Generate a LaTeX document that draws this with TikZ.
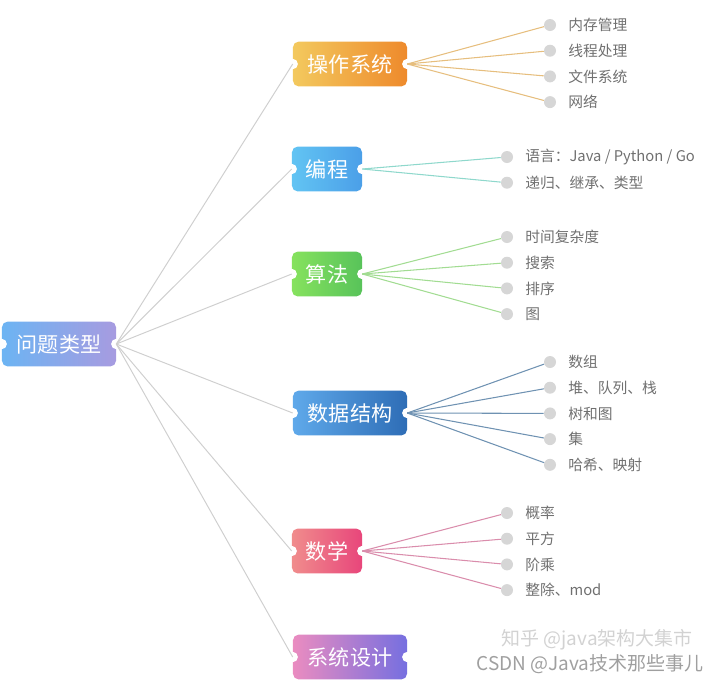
\documentclass[tikz,border=0pt]{standalone}
\usepackage{fontspec}
\setmainfont{Noto Sans CJK SC}
\usetikzlibrary{positioning}
\definecolor{linegray}{HTML}{CFCFCF}
\definecolor{dotgray}{HTML}{D6D6D6}
\definecolor{leafgray}{HTML}{707070}
\definecolor{osA}{HTML}{F3C95E}\definecolor{osB}{HTML}{EE8A2C}
\definecolor{pgA}{HTML}{62C4F3}\definecolor{pgB}{HTML}{4B9FE8}
\definecolor{alA}{HTML}{86E25E}\definecolor{alB}{HTML}{58C35A}
\definecolor{dsA}{HTML}{5FA9EA}\definecolor{dsB}{HTML}{2E6DB6}
\definecolor{maA}{HTML}{F08C8C}\definecolor{maB}{HTML}{E8467B}
\definecolor{sdA}{HTML}{EA8CC0}\definecolor{sdB}{HTML}{766FE0}
\definecolor{qtA}{HTML}{6CB4F3}\definecolor{qtB}{HTML}{A79BE0}
\definecolor{osL}{HTML}{E6BE7E}
\definecolor{pgL}{HTML}{8FD8CC}
\definecolor{alL}{HTML}{A2DC92}
\definecolor{dsL}{HTML}{6F92B2}
\definecolor{maL}{HTML}{DA8DAC}
\tikzset{
topic/.style = {rounded corners=4pt, minimum height=1.12cm, inner sep=0pt,
  text=white, font=\fontsize{15}{15}\selectfont},
wide/.style = {minimum width=2.85cm},
narrow/.style = {minimum width=1.75cm},
leafdot/.style = {circle, fill=dotgray, inner sep=0pt, minimum size=0.3cm},
leaftext/.style = {text=leafgray, font=\fontsize{10.5}{12}\selectfont},
wmark/.style = {font=\fontsize{13.5}{14}\selectfont}
}
% white notches on both sides of a box
\newcommand{\notches}[1]{
\fill [white] (#1.west) circle [radius = 0.13cm];
\fill [white] (#1.east) circle [radius = 0.13cm];
}
% leaves of one box: name, x, first y, line colour, texts
\newcommand{\leaves}[5]{
\foreach \t [count=\i] in {#5}
	{\pgfmathsetmacro{\yy}{#3 + 25.7*(\i - 1)}
	 \node [leafdot] (#1\i) at (#2, \yy) {};
	 \node [leaftext, right = 5pt of #1\i] {\t};
	 \draw [#4, line width = 0.75pt] (#1.east) -- (#1\i);}
}
\begin{document}
\begin{tikzpicture}[x={(0.025cm,0)}, y={(0,-0.025cm)}]
\useasboundingbox (0,0) rectangle (720,686);

\node [topic, wide, left color=qtA, right color=qtB] (qt) at (59,344) {问题类型};
\node [topic, wide, left color=osA, right color=osB] (os) at (350,64) {操作系统};
\node [topic, narrow, left color=pgA, right color=pgB] (pg) at (327,169) {编程};
\node [topic, narrow, left color=alA, right color=alB] (al) at (327,274) {算法};
\node [topic, wide, left color=dsA, right color=dsB] (ds) at (350,413) {数据结构};
\node [topic, narrow, left color=maA, right color=maB] (ma) at (327,551) {数学};
\node [topic, wide, left color=sdA, right color=sdB] (sd) at (350,657) {系统设计};

\foreach \n in {qt,os,pg,al,ds,ma,sd}
	{\notches{\n}}

\foreach \n in {os,pg,al,ds,ma,sd}
	\draw [linegray, line width = 0.7pt] (qt.east) -- (\n.west);

\leaves{os}{550}{25}{osL}{内存管理,线程处理,文件系统,网络}
\leaves{pg}{507}{157}{pgL}{语言：Java / Python / Go,递归、继承、类型}
\leaves{al}{507}{237}{alL}{时间复杂度,搜索,排序,图}
\leaves{ds}{550}{362}{dsL}{数组,堆、队列、栈,树和图,集,哈希、映射}
\leaves{ma}{507}{513}{maL}{概率,平方,阶乘,整除、mod}

\node [wmark, text=gray!35] (zh) at (597,640) {知乎 @java架构大集市};
\node [wmark, text=gray!75] (cs) at (590,664) {CSDN @Java技术那些事儿};
\end{tikzpicture}
\end{document}
